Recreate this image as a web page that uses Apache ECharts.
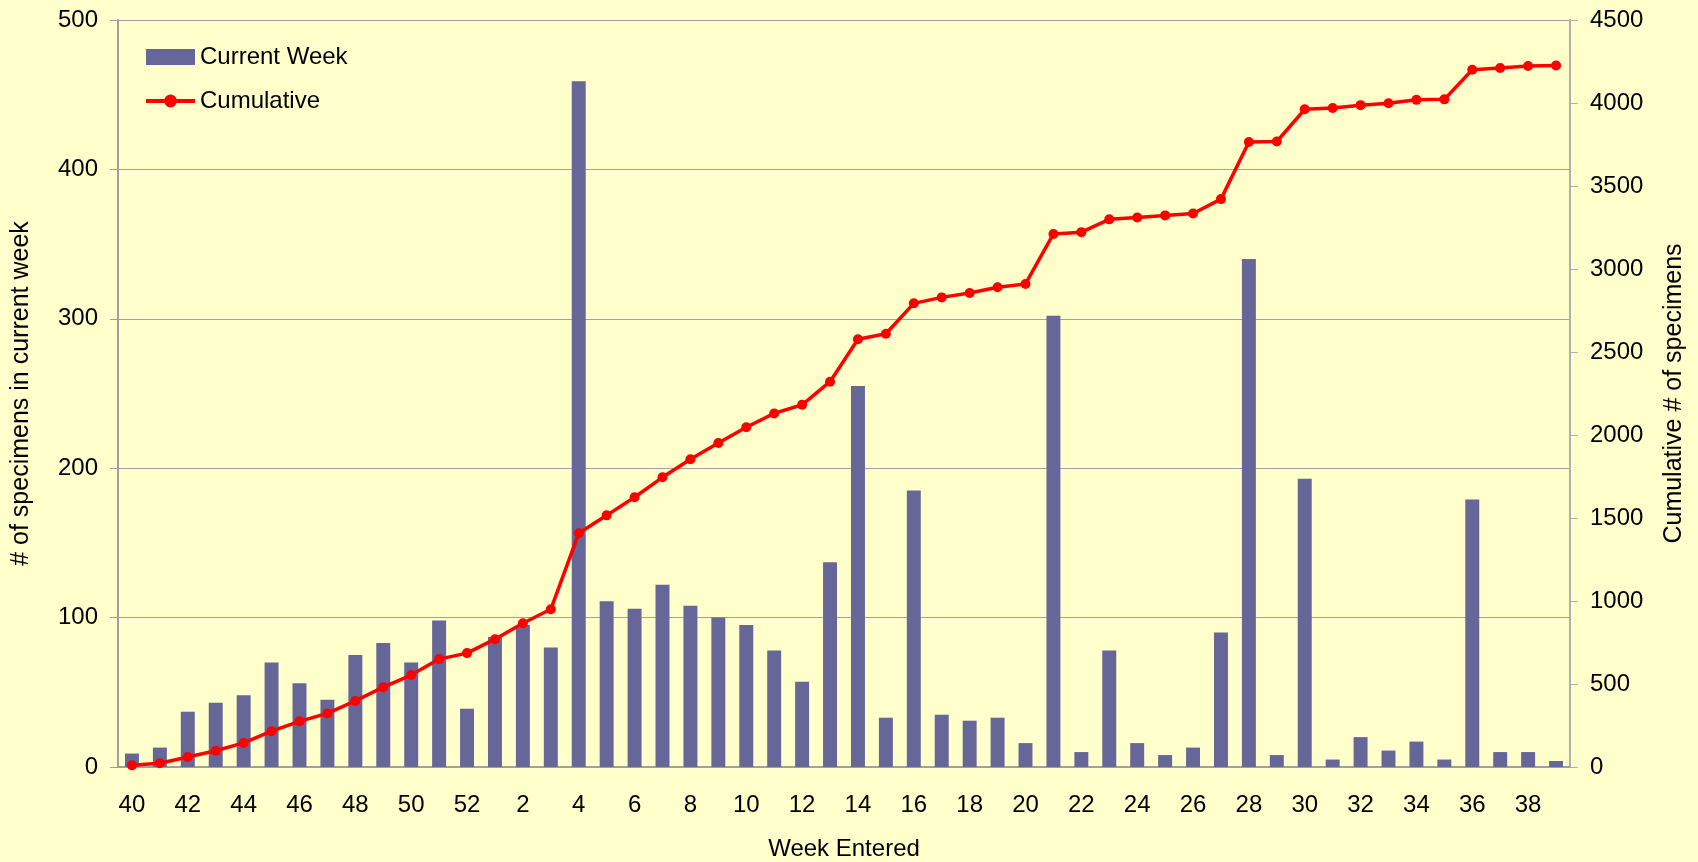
<!DOCTYPE html>
<html>
<head>
<meta charset="utf-8">
<script src="https://cdn.jsdelivr.net/npm/echarts@6/dist/echarts.min.js"></script>
<style>
  html, body { margin: 0; padding: 0; background: #FFFFCC; }
  #chart { width: 1698px; height: 862px; }
</style>
</head>
<body>
<div id="chart"></div>
<script>
// week numbers, season runs from week 40 to week 39 of the next year
var weeks = ['40', '41', '42', '43', '44', '45', '46', '47', '48', '49', '50', '51', '52',
    '1', '2', '3', '4', '5', '6', '7', '8', '9', '10', '11', '12', '13', '14', '15', '16',
    '17', '18', '19', '20', '21', '22', '23', '24', '25', '26', '27', '28', '29', '30',
    '31', '32', '33', '34', '35', '36', '37', '38', '39'];

var currentWeek = [9, 13, 37, 43, 48, 70, 56, 45, 75, 83, 70, 98, 39,
    87, 95, 80, 459, 111, 106, 122, 108, 100, 95, 78, 57, 137, 255, 33, 185,
    35, 31, 33, 16, 302, 10, 78, 16, 8, 13, 90, 340, 8, 193,
    5, 20, 11, 17, 5, 179, 10, 10, 4];

var cumulative = [10, 23, 60, 98, 145, 216, 275, 323, 398, 481, 554, 650, 686,
    770, 866, 950, 1408, 1516, 1625, 1745, 1854, 1952, 2047, 2130, 2182, 2321, 2577, 2610, 2793,
    2829, 2855, 2890, 2910, 3211, 3222, 3299, 3310, 3323, 3334, 3421, 3765, 3768, 3962,
    3970, 3987, 3998, 4019, 4022, 4200, 4211, 4223, 4226];

var leftTicks = { min: 0, max: 500, interval: 100 };
var rightTicks = { min: 0, max: 4500, interval: 500 };

var font = 'Liberation Sans, Arial, sans-serif';
var gray = '#A0A0A0';

var myChart = echarts.init(document.getElementById('chart'));

var option = {
    backgroundColor: '#FFFFCC',
    animation: false,
    textStyle: { fontFamily: font, color: '#000' },
    legend: {
        orient: 'vertical',
        left: 139,
        top: 40,
        itemWidth: 49,
        itemHeight: 16,
        itemGap: 20,
        lineStyle: { width: 4 },
        textStyle: { fontSize: 24, color: '#000', fontFamily: font },
        data: [
            { name: 'Current Week', icon: 'rect' },
            { name: 'Cumulative' }
        ]
    },
    grid: {
        left: 118,
        right: 128,
        top: 20,
        bottom: 95,
        containLabel: false,
        outerBoundsMode: 'none'
    },
    xAxis: {
        type: 'category',
        data: weeks,
        boundaryGap: true,
        name: 'Week Entered',
        nameLocation: 'middle',
        nameGap: 70,
        nameTextStyle: { fontSize: 24, color: '#000', fontFamily: font },
        axisLine: { lineStyle: { color: gray, width: 2 } },
        axisTick: { interval: 0, length: 7, lineStyle: { color: gray, width: 1 } },
        axisLabel: { interval: 1, fontSize: 24, color: '#000', margin: 26, fontFamily: font }
    },
    yAxis: [
        {
            type: 'value',
            min: leftTicks.min,
            max: leftTicks.max,
            interval: leftTicks.interval,
            position: 'left',
            name: '# of specimens in current week',
            nameLocation: 'middle',
            nameRotate: 90,
            nameGap: 84,
            nameTextStyle: { fontSize: 25, color: '#000', fontFamily: font },
            axisLine: { show: true, lineStyle: { color: gray, width: 2 } },
            axisTick: { show: true, length: 8, lineStyle: { color: gray } },
            axisLabel: { fontSize: 24, color: '#000', margin: 20, fontFamily: font },
            splitLine: { show: true, lineStyle: { color: gray, width: 1 } }
        },
        {
            type: 'value',
            min: rightTicks.min,
            max: rightTicks.max,
            interval: rightTicks.interval,
            position: 'right',
            name: 'Cumulative # of specimens',
            nameLocation: 'middle',
            nameRotate: 90,
            nameGap: 92,
            nameTextStyle: { fontSize: 25, color: '#000', fontFamily: font },
            axisLine: { show: true, lineStyle: { color: '#B0B0B0', width: 2 } },
            axisTick: { show: true, length: 8, lineStyle: { color: '#B0B0B0' } },
            axisLabel: {
                fontSize: 24, color: '#000', margin: 20, fontFamily: font,
                formatter: function (v) { return String(v); }
            },
            splitLine: { show: false }
        }
    ],
    series: [
        {
            name: 'Current Week',
            type: 'bar',
            yAxisIndex: 0,
            barWidth: '50%',
            itemStyle: { color: '#666699' },
            data: currentWeek
        },
        {
            name: 'Cumulative',
            type: 'line',
            yAxisIndex: 1,
            symbol: 'circle',
            symbolSize: 10,
            lineStyle: { color: '#FF0000', width: 3.5 },
            itemStyle: { color: '#FF0000' },
            data: cumulative
        }
    ]
};

myChart.setOption(option);
</script>
</body>
</html>
